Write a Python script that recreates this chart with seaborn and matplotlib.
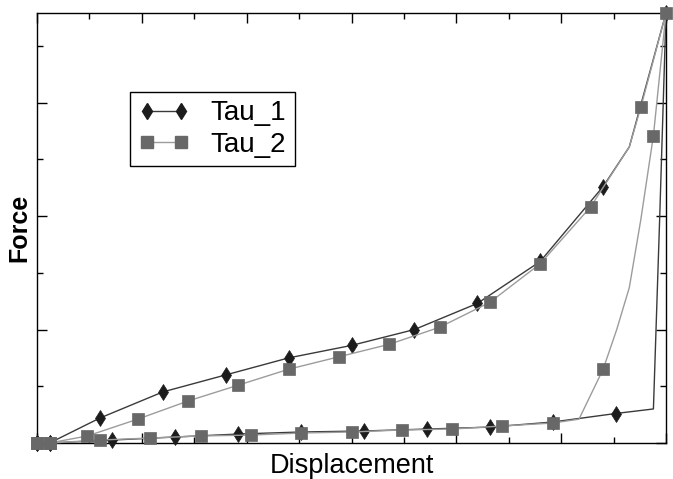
import numpy as np
import pandas as pd
import seaborn as sns
import matplotlib.pyplot as plt
from matplotlib.lines import Line2D
from matplotlib.ticker import MultipleLocator

sns.set_style("ticks")
plt.rcParams["font.family"] = ["Liberation Sans", "DejaVu Sans"]
plt.rcParams["text.color"] = "black"
plt.rcParams["axes.labelcolor"] = "black"

# Tau_1: loading branch then unloading branch (one closed path)
tau1_x = [0.00, 0.12, 0.60, 1.20, 1.80, 2.40, 3.00, 3.60, 4.20, 4.80, 5.40, 5.65, 6.00,
          5.94, 5.88, 5.52, 4.92, 4.32, 3.72, 3.12, 2.52, 1.92, 1.32, 0.72, 0.12, 0.00]
tau1_y = [0.00, 0.00, 0.22, 0.45, 0.60, 0.75, 0.86, 1.00, 1.23, 1.60, 2.26, 2.61, 3.79,
          1.99, 0.30, 0.26, 0.185, 0.14, 0.123, 0.106, 0.097, 0.079, 0.053, 0.026, 0.00, 0.00]
tau1_marks = [0, 1, 2, 3, 4, 5, 6, 7, 8, 9, 10, 12,
              15, 16, 17, 18, 19, 20, 21, 22, 23, 24, 25]

# Tau_2
tau2_x = [0.00, 0.12, 0.48, 0.96, 1.44, 1.92, 2.40, 2.88, 3.36, 3.84, 4.32, 4.80, 5.28, 5.65, 5.76, 6.00,
          5.88, 5.76, 5.65, 5.53, 5.40, 5.17, 4.92, 4.44, 3.96, 3.48, 3.00, 2.52, 2.04, 1.56, 1.08, 0.60, 0.12, 0.00]
tau2_y = [0.00, 0.00, 0.062, 0.21, 0.37, 0.51, 0.65, 0.76, 0.87, 1.02, 1.24, 1.58, 2.08, 2.61, 2.96, 3.79,
          2.71, 1.97, 1.37, 1.00, 0.65, 0.21, 0.176, 0.15, 0.123, 0.115, 0.097, 0.088, 0.070, 0.062, 0.044, 0.026, 0.00, 0.00]
tau2_marks = [0, 1, 2, 3, 4, 5, 6, 7, 8, 9, 10, 11, 12, 14, 15,
              16, 20, 22, 23, 24, 25, 26, 27, 28, 29, 30, 31, 32, 33]

series = ["Tau_1", "Tau_2"]

fig = plt.figure(figsize=(6.73, 4.79), dpi=100)
ax = fig.add_axes([37 / 673, 36 / 479, 629 / 673, 430 / 479])

c1_line, c1_mark = "#3a3a3a", "#1c1c1c"
c2_line, c2_mark = "#9c9c9c", "#686868"

sns.lineplot(x=tau1_x, y=tau1_y, sort=False, estimator=None, ax=ax,
             color=c1_line, lw=1.0, marker="d", markevery=tau1_marks,
             markersize=8.5, markerfacecolor=c1_mark, markeredgecolor=c1_mark,
             markeredgewidth=0.5, clip_on=False, zorder=3)
sns.lineplot(x=tau2_x, y=tau2_y, sort=False, estimator=None, ax=ax,
             color=c2_line, lw=1.0, marker="s", markevery=tau2_marks,
             markersize=8, markerfacecolor=c2_mark, markeredgecolor=c2_mark,
             markeredgewidth=0.5, clip_on=False, zorder=4)

ax.set_xlim(0, 6)
ax.set_ylim(0, 3.79)
ax.xaxis.set_major_locator(MultipleLocator(1))
ax.xaxis.set_minor_locator(MultipleLocator(0.5))
ax.yaxis.set_major_locator(MultipleLocator(1))
ax.yaxis.set_minor_locator(MultipleLocator(0.5))
ax.tick_params(which="both", direction="in", top=True, right=True,
               labelleft=False, labelbottom=False, color="black", width=1)
ax.tick_params(which="major", length=7)
ax.tick_params(which="minor", length=4)
for sp in ax.spines.values():
    sp.set_color("black")
    sp.set_linewidth(1.0)

ax.set_xlabel("Displacement", fontsize=19.5, labelpad=7)
ax.set_ylabel("Force", fontsize=18, fontweight="bold", labelpad=4)

handles = [
    Line2D([], [], color=c1_line, lw=1.0, marker="d", markersize=8.5,
           markerfacecolor=c1_mark, markeredgecolor=c1_mark),
    Line2D([], [], color=c2_line, lw=1.0, marker="s", markersize=8,
           markerfacecolor=c2_mark, markeredgecolor=c2_mark),
]
leg = ax.legend(handles, series, loc="upper left", bbox_to_anchor=(0.148, 0.816),
                borderaxespad=0, numpoints=2, fontsize=20, handlelength=1.85,
                handletextpad=0.75, labelspacing=0.2, borderpad=0.3,
                fancybox=False, framealpha=1, edgecolor="black")
leg.get_frame().set_linewidth(1.0)

fig.savefig("out.png", dpi=100)
